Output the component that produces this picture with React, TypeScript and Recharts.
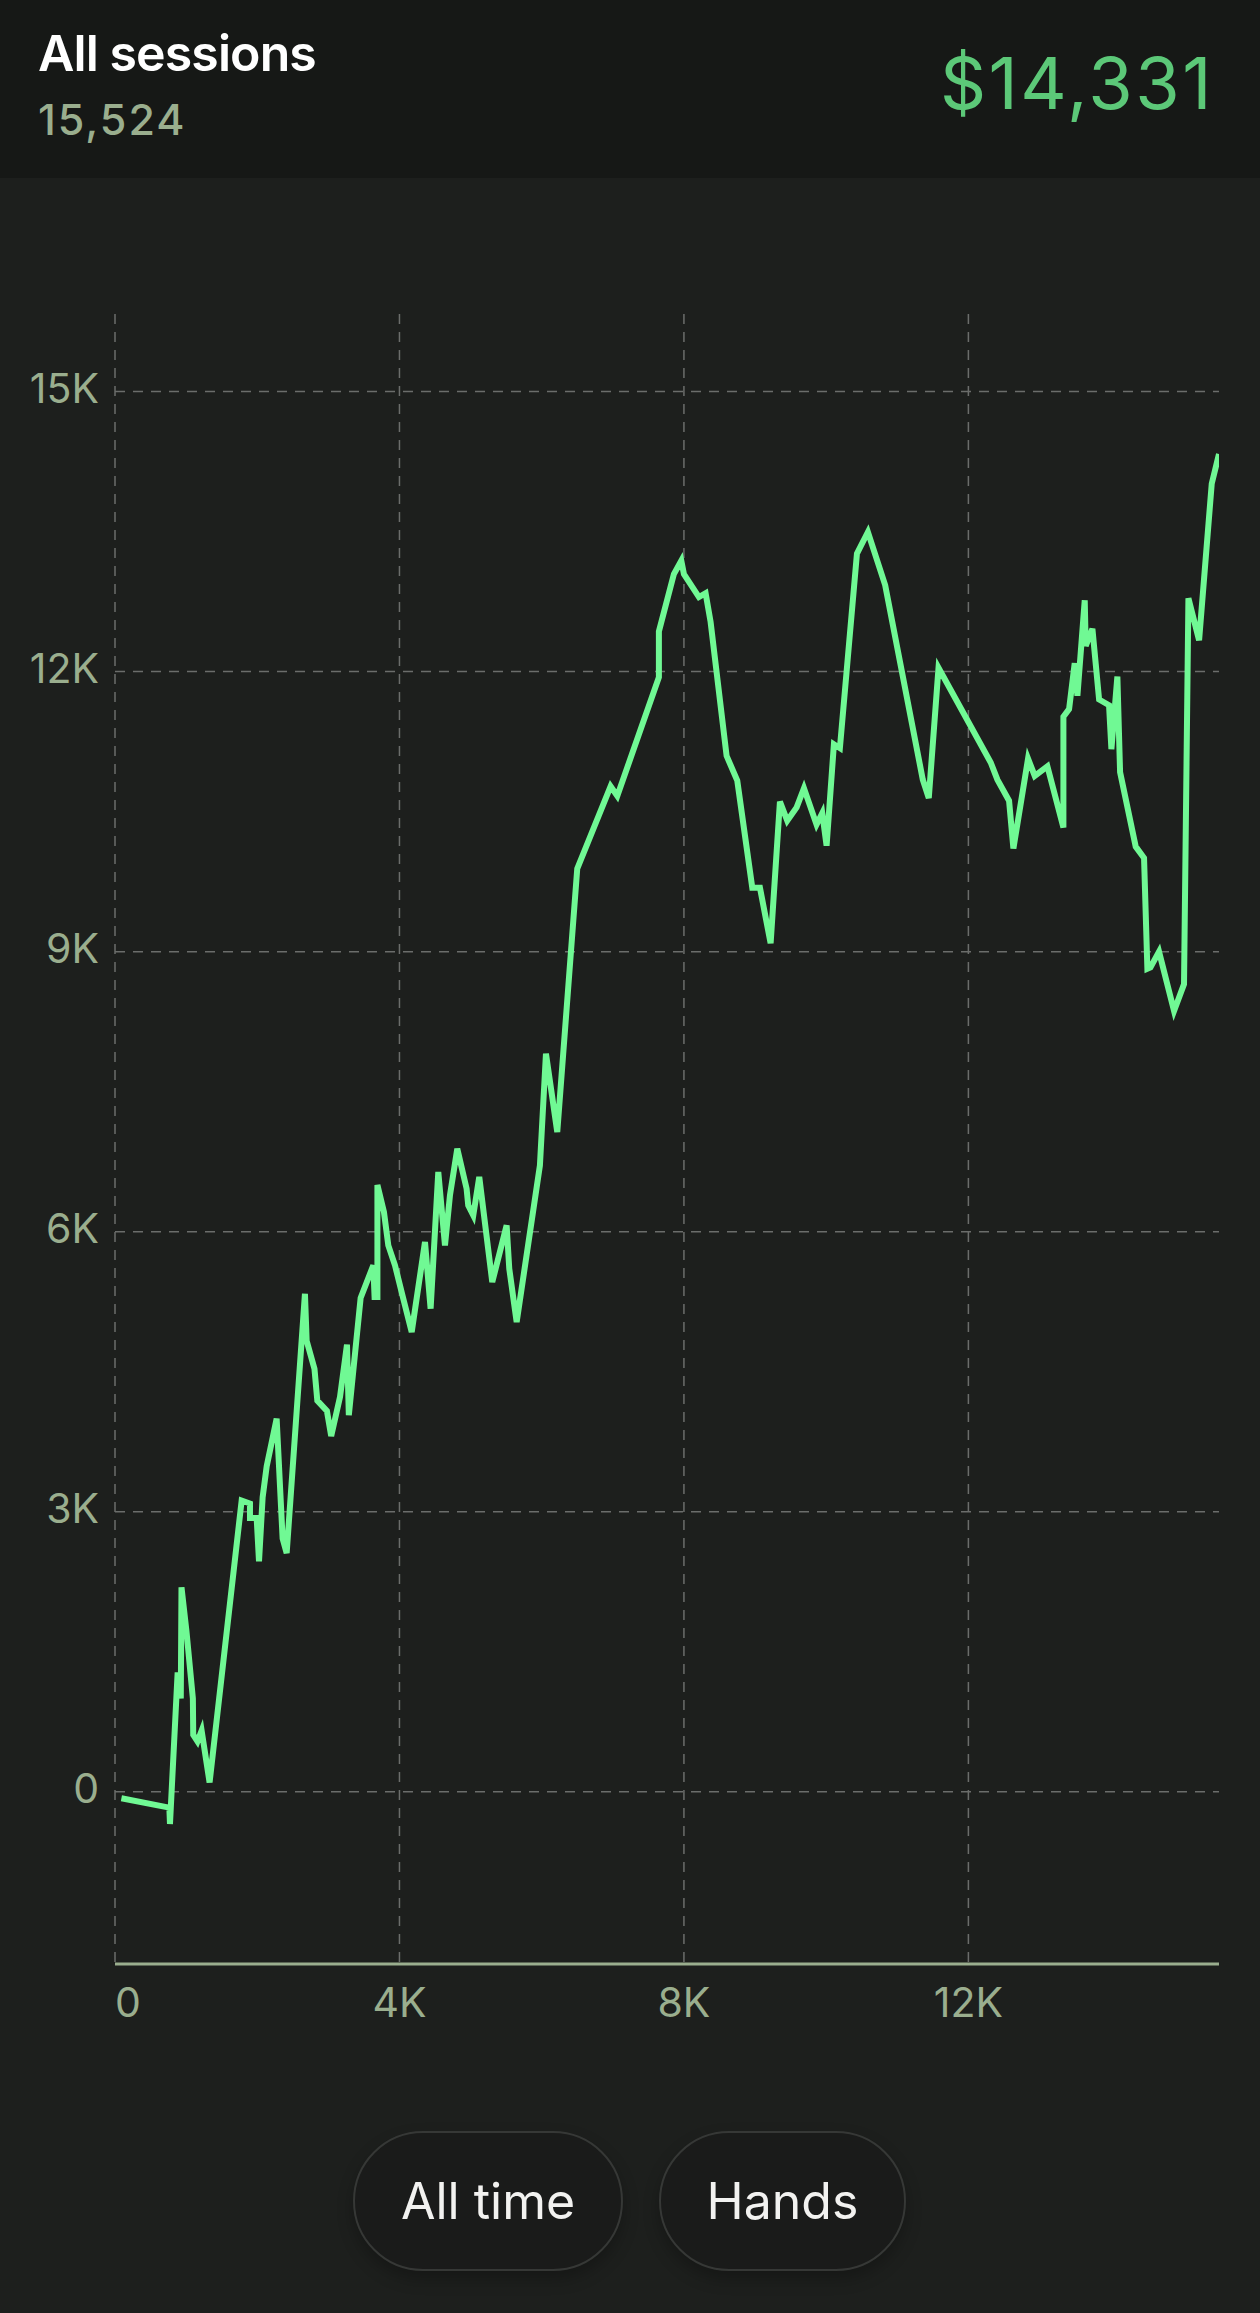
import { LineChart, Line, XAxis, YAxis, CartesianGrid } from "recharts";

// cumulative result by hands played
const hands = [
  90, 764, 773, 881, 925, 935, 1005, 1095, 1100, 1160, 1218, 1330, 1781, 1898,
  1898, 1992, 2025, 2076, 2133, 2273, 2357, 2414, 2671, 2695, 2805, 2845, 2980,
  3040, 3164, 3262, 3288, 3454, 3632, 3650, 3690, 3690, 3782, 3843, 3937, 4054,
  4172, 4359, 4438, 4546, 4640, 4710, 4813, 4944, 4967, 5038, 5122, 5305, 5507,
  5544, 5648, 5975, 6060, 6219, 6500, 6969, 7063, 7648, 7648, 7859, 7963, 8000,
  8211, 8305, 8375, 8600, 8750, 8961, 9069, 9219, 9350, 9453, 9585, 9688, 9865,
  9945, 10006, 10109, 10193, 10433, 10587, 10830, 11359, 11443, 11580, 12314,
  12408, 12572, 12633, 12839, 12933, 13111, 13336, 13336, 13416, 13495, 13533,
  13636, 13650, 13744, 13838, 13978, 14011, 14095, 14133, 14353, 14470, 14517,
  14560, 14681, 14892, 15032, 15094, 15244, 15422, 15524,
];

const profit = [
  -70, -170, -345, 1280, 1000, 2190, 1720, 1000, 610, 540, 655, 100, 3120, 3088,
  2933, 2933, 2468, 3155, 3487, 3997, 2712, 2557, 5335, 4830, 4530, 4190, 4080,
  3810, 4230, 4790, 4035, 5290, 5640, 5300, 5300, 6500, 6211, 5853, 5639, 5282,
  4925, 5889, 5175, 6640, 5853, 6389, 6889, 6461, 6282, 6175, 6586, 5461, 6068,
  5604, 5032, 6710, 7907, 7068, 9890, 10771, 10668, 11939, 12430, 13045, 13188,
  13045, 12799, 12840, 12533, 11098, 10832, 9685, 9685, 9090, 10607, 10402,
  10545, 10750, 10361, 10484, 10135, 11221, 11180, 13265, 13496, 12926, 10842,
  10646, 12040, 11026, 10842, 10617, 10105, 11067, 10883, 10985, 10330, 11517,
  11599, 12090, 11742, 12765, 12274, 12458, 11701, 11640, 11169, 11947, 10924,
  10125, 10003, 8816, 8830, 9000, 8365, 8652, 12786, 12336, 14014, 14331,
];

const xTicks = [0, 4000, 8000, 12000];
const yTicks = [0, 3000, 6000, 9000, 12000, 15000];
const ranges = ["All time", "Hands"];

const totalHands = 15524;
const totalProfit = 14331;

const data = hands.map((h, i) => ({ hands: h, profit: profit[i] }));

const yMin = Math.min(...profit) - 1500;
const yMax = Math.max(...profit) + 1500;

const FONT = "Inter, 'Noto Sans', sans-serif";
const SAGE = "#9aae8e";
const LINE = "#70f994";
const GRID = "#6b6d6b";

const fmtK = (v: number) => (v === 0 ? "0" : `${v / 1000}K`);

function XTick(props: any) {
  const { x, y, payload } = props;
  return (
    <text
      x={x}
      y={y + 53}
      fill={SAGE}
      fontSize={41}
      fontFamily={FONT}
      textAnchor={payload.value === 0 ? "start" : "middle"}
    >
      {fmtK(payload.value)}
    </text>
  );
}

function YTick(props: any) {
  const { x, y, payload } = props;
  return (
    <text
      x={x - 16}
      y={y + 11}
      fill={SAGE}
      fontSize={41}
      fontFamily={FONT}
      textAnchor="end"
    >
      {fmtK(payload.value)}
    </text>
  );
}

// grid lines only on the ticks, no border lines at the plot edges
const hLines = ({ yAxis, offset }: any) =>
  yTicks.map((t) =>
    typeof yAxis?.scale === "function"
      ? yAxis.scale(t)
      : offset.top + ((yMax - t) / (yMax - yMin)) * offset.height
  );
const vLines = ({ xAxis, offset }: any) =>
  xTicks.map((t) =>
    typeof xAxis?.scale === "function"
      ? xAxis.scale(t)
      : offset.left + (t / totalHands) * offset.width
  );

export default function App() {
  return (
    <div
      style={{
        position: "relative",
        width: 1260,
        height: 2313,
        background: "#1d1f1d",
        fontFamily: FONT,
        overflow: "hidden",
      }}
    >
      <style>{`body{margin:0;background:#1d1f1d}`}</style>

      <div
        style={{
          position: "absolute",
          left: 0,
          top: 0,
          width: 1260,
          height: 178,
          background: "#161816",
        }}
      >
        <div
          style={{
            position: "absolute",
            left: 38,
            top: 28,
            fontSize: 50,
            lineHeight: 1,
            fontWeight: 600,
            letterSpacing: -0.9,
            color: "#ffffff",
          }}
        >
          All sessions
        </div>
        <div
          style={{
            position: "absolute",
            left: 38,
            top: 98,
            fontSize: 43,
            lineHeight: 1,
            fontWeight: 500,
            letterSpacing: 2,
            color: SAGE,
          }}
        >
          {totalHands.toLocaleString("en-US")}
        </div>
        <div
          style={{
            position: "absolute",
            right: 46,
            top: 47,
            fontSize: 72,
            lineHeight: 1,
            fontWeight: 400,
            letterSpacing: 2.5,
            color: "#5cc878",
          }}
        >
          ${totalProfit.toLocaleString("en-US")}
        </div>
      </div>

      <div style={{ position: "absolute", left: 0, top: 178 }}>
        <LineChart
          width={1260}
          height={1872}
          data={data}
          margin={{ top: 136, right: 41, bottom: 26, left: 0 }}
        >
          <CartesianGrid
            stroke={GRID}
            strokeWidth={1.5}
            strokeDasharray="10 8"
            horizontalCoordinatesGenerator={hLines}
            verticalCoordinatesGenerator={vLines}
          />
          <XAxis
            dataKey="hands"
            type="number"
            domain={[0, totalHands]}
            allowDataOverflow
            ticks={xTicks}
            tick={<XTick />}
            tickLine={false}
            tickSize={0}
            tickMargin={0}
            axisLine={{ stroke: SAGE, strokeWidth: 3 }}
            height={60}
          />
          <YAxis
            type="number"
            domain={[yMin, yMax]}
            allowDataOverflow
            ticks={yTicks}
            tick={<YTick />}
            tickLine={false}
            tickSize={0}
            tickMargin={0}
            axisLine={false}
            width={115}
          />
          <Line
            type="linear"
            dataKey="profit"
            stroke={LINE}
            strokeWidth={6}
            strokeLinejoin="miter"
            dot={false}
            activeDot={false}
            isAnimationActive={false}
          />
        </LineChart>
      </div>

      {ranges.map((label, i) => (
        <div
          key={label}
          style={{
            position: "absolute",
            top: 2131,
            left: i === 0 ? 353 : 659,
            width: i === 0 ? 270 : 247,
            height: 140,
            boxSizing: "border-box",
            borderRadius: 70,
            border: "2px solid #363836",
            background: "#1a1b1a",
            boxShadow: "0 8px 16px rgba(0,0,0,0.25)",
            display: "flex",
            alignItems: "center",
            justifyContent: "center",
            fontSize: 50,
            color: "#f2f2f0",
          }}
        >
          {label}
        </div>
      ))}
    </div>
  );
}
